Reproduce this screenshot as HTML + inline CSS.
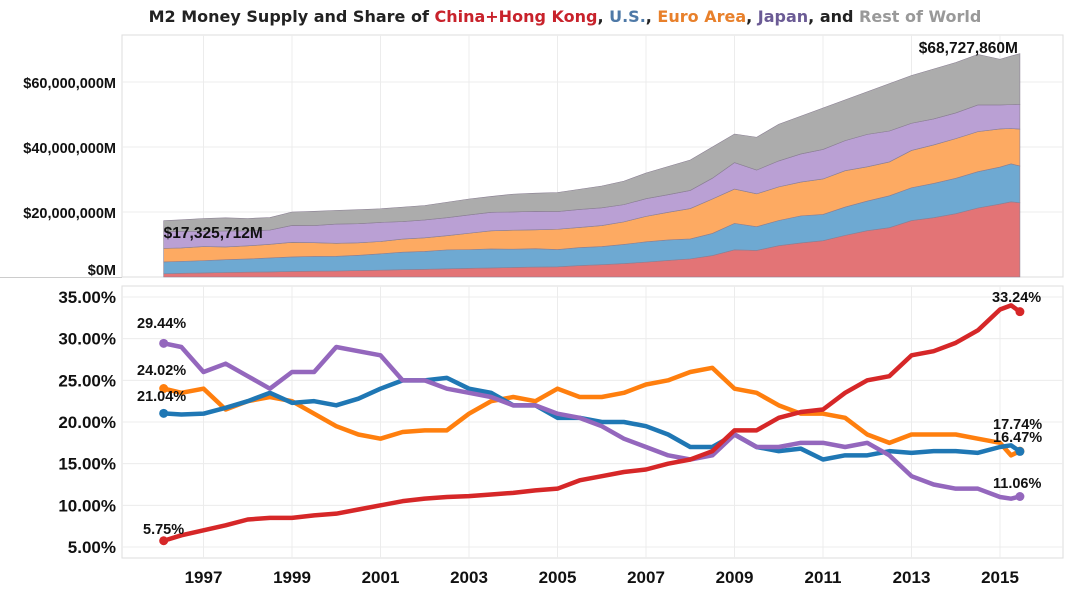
<!DOCTYPE html>
<html><head><meta charset="utf-8">
<style>
body{margin:0;background:#fff;width:1069px;height:591px;overflow:hidden}
svg{display:block;font-family:"Liberation Sans",Arial,sans-serif}
</style></head>
<body>
<svg id="chart" width="1069" height="591" viewBox="0 0 1069 591">
<text x="565" y="22" text-anchor="middle" font-family="DejaVu Sans, sans-serif" font-weight="bold" font-size="16" fill="#222">M2 Money Supply and Share of <tspan fill="#c8222b">China+Hong Kong</tspan>, <tspan fill="#4e79a7">U.S.</tspan>, <tspan fill="#e8802b">Euro Area</tspan>, <tspan fill="#6b5b95">Japan</tspan>, and <tspan fill="#999">Rest of World</tspan></text>
<g id="topPanel"></g>
<g id="botPanel"></g>
</svg>
<script>
const years=[1996.1,1996.5,1997,1997.5,1998,1998.5,1999,1999.5,2000,2000.5,2001,2001.5,2002,2002.5,2003,2003.5,2004,2004.5,2005,2005.5,2006,2006.5,2007,2007.5,2008,2008.5,2009,2009.5,2010,2010.5,2011,2011.5,2012,2012.5,2013,2013.5,2014,2014.5,2015,2015.25,2015.45];
const china=[5.75,6.4,7.0,7.6,8.3,8.5,8.5,8.8,9.0,9.5,10.0,10.5,10.8,11.0,11.1,11.3,11.5,11.8,12.0,13.0,13.5,14.0,14.3,15.0,15.5,16.5,19.0,19.0,20.5,21.2,21.5,23.5,25.0,25.5,28.0,28.5,29.5,31.0,33.5,34.0,33.24];
const us=[21.04,20.9,21.0,21.7,22.5,23.5,22.3,22.5,22.0,22.8,24.0,25.0,25.0,25.3,24.0,23.5,22.0,22.0,20.5,20.5,20.0,20.0,19.5,18.5,17.0,17.0,18.5,17.0,16.5,16.8,15.5,16.0,16.0,16.5,16.3,16.5,16.5,16.3,17.0,17.2,16.47];
const euro=[24.02,23.5,24.0,21.5,22.5,23.0,22.5,21.0,19.5,18.5,18.0,18.8,19.0,19.0,21.0,22.5,23.0,22.5,24.0,23.0,23.0,23.5,24.5,25.0,26.0,26.5,24.0,23.5,22.0,21.0,21.0,20.5,18.5,17.5,18.5,18.5,18.5,18.0,17.5,16.0,16.5];
const japan=[29.44,29.0,26.0,27.0,25.5,24.0,26.0,26.0,29.0,28.5,28.0,25.0,25.0,24.0,23.5,23.0,22.0,22.0,21.0,20.5,19.5,18.0,17.0,16.0,15.5,16.0,18.5,17.0,17.0,17.5,17.5,17.0,17.5,16.0,13.5,12.5,12.0,12.0,11.0,10.8,11.06];
const total=[17.33,17.6,18.0,18.2,18.0,18.3,20.0,20.2,20.5,20.7,21.0,21.5,22.0,23.0,24.0,24.8,25.5,25.8,26.0,27.0,28.0,29.5,32.0,34.0,36.0,40.0,44.0,43.0,47.0,49.5,52.0,54.5,57.0,59.5,62.0,64.0,66.0,68.5,67.0,68.0,68.73];
const topTicks=[0,20,40,60];
const topTickLabels=["$0M","$20,000,000M","$40,000,000M","$60,000,000M"];
const pctTicks=[5,10,15,20,25,30,35];
const yearTicks=[1997,1999,2001,2003,2005,2007,2009,2011,2013,2015];
const endVals=[33.24,16.47,17.74,11.06];
const startLabel="$17,325,712M", endLabel="$68,727,860M";

const NS="http://www.w3.org/2000/svg";
function mk(p,tag,at){const e=document.createElementNS(NS,tag);for(const k in at)e.setAttribute(k,at[k]);p.appendChild(e);return e;}
const L=122,R=1063;
const xS=t=>203.5+(t-1997)*44.25;
const yT=v=>277-v*3.25;
const yB=v=>547-(v-5)*8.333;
const gTop=document.getElementById('topPanel'),gBot=document.getElementById('botPanel');

mk(gTop,'rect',{x:L,y:35,width:R-L,height:242,fill:'none',stroke:'#ddd'});
mk(gBot,'rect',{x:L,y:286,width:R-L,height:272,fill:'none',stroke:'#ddd'});
mk(gTop,'line',{x1:0,x2:L,y1:277.5,y2:277.5,stroke:'#ccc'});
yearTicks.forEach(yr=>{
  [gTop,gBot].forEach((g,i)=>{const gl=mk(g,'line',{x1:xS(yr),x2:xS(yr),y1:i?286:35,y2:i?558:277,stroke:'#ececec'});
    
    });
  const t=mk(gBot,'text',{x:xS(yr),y:583,'text-anchor':'middle','font-size':17,'font-weight':'bold',fill:'#111'});t.textContent=yr;
  
  
});
topTicks.forEach((v,i)=>{
  if(v>0){const gl=mk(gTop,'line',{x1:L,x2:R,y1:yT(v),y2:yT(v),stroke:'#ececec'});
    
    }
  const t=mk(gTop,'text',{x:116,y:yT(v)+(v?6:-2),'text-anchor':'end','font-size':14.5,'font-weight':'bold',fill:'#111'});t.textContent=topTickLabels[i];
  
  
});
pctTicks.forEach(v=>{
  const gl=mk(gBot,'line',{x1:L,x2:R,y1:yB(v),y2:yB(v),stroke:'#ececec'});
  
  
  const t=mk(gBot,'text',{x:116,y:yB(v)+6,'text-anchor':'end','font-size':17,'font-weight':'bold',fill:'#111'});t.textContent=v.toFixed(2)+'%';
  
  
});

const shares=[china,us,euro,japan];
const areaCols=['#e37476','#6ea9d2','#fdaa62','#baa0d4','#acacac'];
const names=['china','us','euro','japan','rest'];
let lower=years.map(()=>0);
for(let s=0;s<5;s++){
  const upper=years.map((t,i)=>s<4?lower[i]+total[i]*shares[s][i]/100:total[i]);
  let d='M'+years.map((t,i)=>xS(t)+','+yT(upper[i])).join('L');
  for(let i=years.length-1;i>=0;i--)d+='L'+xS(years[i])+','+yT(lower[i]);
  const p=mk(gTop,'path',{d:d+'Z',fill:areaCols[s],stroke:'#8a7f93','stroke-width':0.6});
  
  
  lower=upper;
}
const t1=mk(gTop,'text',{x:xS(years[0]),y:238,'font-size':15.5,'font-weight':'bold',fill:'#111'});t1.textContent=startLabel;


const t2=mk(gTop,'text',{x:xS(years[years.length-1])-2,y:53,'text-anchor':'end','font-size':15.5,'font-weight':'bold',fill:'#111'});t2.textContent=endLabel;



const lineCols=['#d62728','#1f77b4','#ff7f0e','#9467bd'];
[2,1,3,0].forEach(s=>{
  const arr=shares[s];
  const p=mk(gBot,'path',{d:'M'+years.map((t,i)=>xS(t)+','+yB(arr[i])).join('L'),fill:'none',stroke:lineCols[s],'stroke-width':4.5,'stroke-linejoin':'round'});
  
  
  [0,years.length-1].forEach(i=>{const c=mk(gBot,'circle',{cx:xS(years[i]),cy:yB(arr[i]),r:4.5,fill:lineCols[s]});
    
    });
});
const startPos=[[143,534],[137,401],[137,375],[137,328]];
const endPos=[[992,302],[993,442],[993,429],[993,488]];
shares.forEach((arr,s)=>{
  const a=mk(gBot,'text',{x:startPos[s][0],y:startPos[s][1],'font-size':14.5,'font-weight':'bold',fill:'#111'});a.textContent=arr[0].toFixed(2)+'%';
  
  
  const b=mk(gBot,'text',{x:endPos[s][0],y:endPos[s][1],'font-size':14.5,'font-weight':'bold',fill:'#111'});b.textContent=endVals[s].toFixed(2)+'%';
  
  
});
</script>
</body></html>
